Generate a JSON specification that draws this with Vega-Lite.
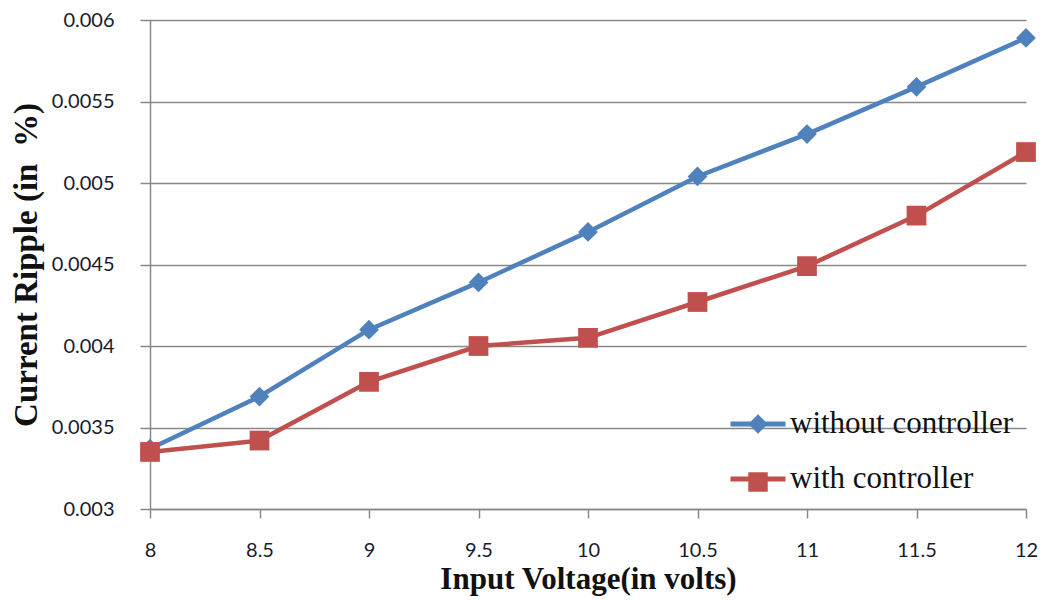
{
  "$schema": "https://vega.github.io/schema/vega-lite/v6.json",
  "width": 876,
  "height": 489,
  "autosize": "none",
  "padding": {"left": 150, "top": 20, "right": 16, "bottom": 91},
  "background": "white",
  "config": {"view": {"stroke": null}},
  "data": {
    "values": [
      {"v": 8, "r": 0.00337, "s": "without controller"},
      {"v": 8.5, "r": 0.00369, "s": "without controller"},
      {"v": 9, "r": 0.0041, "s": "without controller"},
      {"v": 9.5, "r": 0.00439, "s": "without controller"},
      {"v": 10, "r": 0.0047, "s": "without controller"},
      {"v": 10.5, "r": 0.00504, "s": "without controller"},
      {"v": 11, "r": 0.0053, "s": "without controller"},
      {"v": 11.5, "r": 0.00559, "s": "without controller"},
      {"v": 12, "r": 0.00589, "s": "without controller"},
      {"v": 8, "r": 0.00335, "s": "with controller"},
      {"v": 8.5, "r": 0.00342, "s": "with controller"},
      {"v": 9, "r": 0.00378, "s": "with controller"},
      {"v": 9.5, "r": 0.004, "s": "with controller"},
      {"v": 10, "r": 0.00405, "s": "with controller"},
      {"v": 10.5, "r": 0.00427, "s": "with controller"},
      {"v": 11, "r": 0.00449, "s": "with controller"},
      {"v": 11.5, "r": 0.0048, "s": "with controller"},
      {"v": 12, "r": 0.00519, "s": "with controller"}
    ]
  },
  "encoding": {
    "x": {
      "field": "v", "type": "quantitative",
      "scale": {"domain": [8, 12], "nice": false, "zero": false},
      "axis": {
        "values": [8, 8.5, 9, 9.5, 10, 10.5, 11, 11.5, 12],
        "format": "~g",
        "title": "Input Voltage(in volts)",
        "grid": false,
        "domain": true, "domainColor": "#888888", "domainWidth": 1.5,
        "ticks": true, "tickColor": "#888888", "tickSize": 9, "tickWidth": 1.5,
        "labelFont": "Lato", "labelFontSize": 20, "labelColor": "#1a1a2e", "labelPadding": 22,
        "labelFlush": false,
        "titleFont": "Liberation Serif", "titleFontSize": 31, "titleFontWeight": "bold", "titleColor": "#111111",
        "titlePadding": 4
      }
    },
    "y": {
      "field": "r", "type": "quantitative",
      "scale": {"domain": [0.003, 0.006], "nice": false, "zero": false},
      "axis": {
        "values": [0.003, 0.0035, 0.004, 0.0045, 0.005, 0.0055, 0.006],
        "format": "~g",
        "title": "Current Ripple (in\u00a0 %)",
        "grid": true, "gridColor": "#888888", "gridWidth": 1.5,
        "domain": true, "domainColor": "#888888", "domainWidth": 1.5,
        "ticks": true, "tickColor": "#888888", "tickSize": 10, "tickWidth": 1.5,
        "labelFont": "Lato", "labelFontSize": 20, "labelColor": "#1a1a2e", "labelPadding": 26,
        "labelFlush": false,
        "titleFont": "Liberation Serif", "titleFontSize": 33, "titleFontWeight": "bold", "titleColor": "#111111",
        "titlePadding": 8
      }
    }
  },
  "resolve": {"legend": {"stroke": "independent", "fill": "independent", "shape": "independent"}},
  "layer": [
    {
      "mark": {"type": "line", "strokeWidth": 4.5},
      "encoding": {
        "stroke": {
          "field": "s", "type": "nominal",
          "sort": ["without controller", "with controller"],
          "scale": {"range": ["#4F81BD", "#C0504D"]},
          "legend": {
            "title": null,
            "orient": "none",
            "legendX": 578,
            "legendY": 374,
            "padding": 0,
            "labelFont": "Liberation Serif",
            "labelFontSize": 31,
            "labelColor": "#111111",
            "labelLimit": 400,
            "rowPadding": 10,
            "symbolType": "stroke",
            "symbolSize": 3025,
            "symbolStrokeWidth": 5,
            "labelOffset": 2
          }
        }
      }
    },
    {
      "mark": {"type": "point", "filled": true, "opacity": 1, "strokeWidth": 0},
      "encoding": {
        "fill": {
          "field": "s", "type": "nominal",
          "scale": {"domain": ["without controller", "with controller"], "range": ["#4F81BD", "#C0504D"]},
          "legend": {
            "title": null,
            "orient": "none",
            "legendX": 594,
            "legendY": 390,
            "padding": 0,
            "labelFont": "Liberation Serif",
            "labelFontSize": 28,
            "labelColor": "rgba(0,0,0,0)",
            "labelExpr": "' '",
            "rowPadding": 30,
            "symbolSize": 380,
            "symbolStrokeWidth": 0,
            "labelOffset": 2
          }
        },
        "shape": {
          "field": "s", "type": "nominal",
          "scale": {"domain": ["without controller", "with controller"], "range": ["diamond", "square"]},
          "legend": {
            "title": null,
            "orient": "none",
            "legendX": 594,
            "legendY": 390,
            "padding": 0,
            "labelFont": "Liberation Serif",
            "labelFontSize": 28,
            "labelColor": "rgba(0,0,0,0)",
            "labelExpr": "' '",
            "rowPadding": 30,
            "symbolSize": 380,
            "symbolStrokeWidth": 0,
            "labelOffset": 2
          }
        },
        "size": {"value": 390}
      }
    }
  ]
}
